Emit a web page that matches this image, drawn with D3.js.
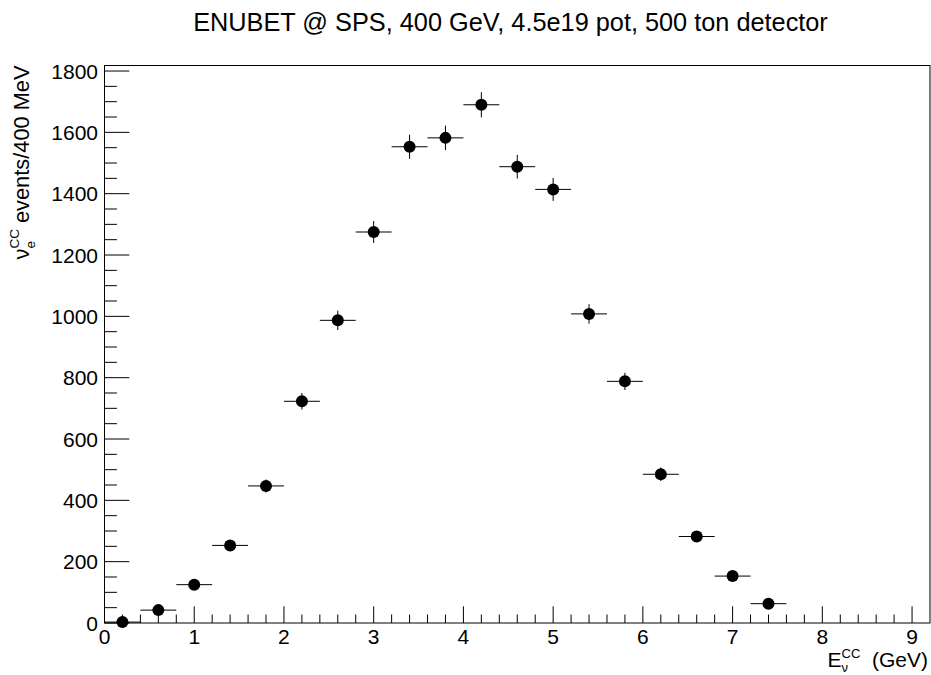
<!DOCTYPE html>
<html><head><meta charset="utf-8">
<script src="https://cdn.jsdelivr.net/npm/d3@7"></script>
<style>body{margin:0;background:#fff}svg{display:block}text{font-family:"Liberation Sans",Arial,Helvetica,sans-serif;fill:#000;white-space:pre}</style>
</head><body>
<svg id="c" width="931" height="675"></svg>
<script>
// ---- data ----
const energies = [0.2,0.6,1.0,1.4,1.8,2.2,2.6,3.0,3.4,3.8,4.2,4.6,5.0,5.4,5.8,6.2,6.6,7.0,7.4];
const events   = [3,42,125,253,447,723,987,1275,1553,1582,1690,1488,1414,1008,788,485,282,153,63];
const errors   = [1.7,6.5,11.2,15.9,21.1,26.9,31.4,35.7,39.4,39.8,41.1,38.6,37.6,31.7,28.1,22.0,16.8,12.4,7.9];
const binHalfWidth = 0.2;
const xTickLabels = ["0","1","2","3","4","5","6","7","8","9"];
const yTickLabels = ["0","200","400","600","800","1000","1200","1400","1600","1800"];
const titleText = "ENUBET @ SPS, 400 GeV, 4.5e19 pot, 500 ton detector";

// ---- layout ----
const L = 104.5, R = 930, T = 65.5, B = 623;
const fs = 21;
const svg = d3.select("#c");
const x = d3.scaleLinear().domain([0, 9.2]).range([L, R]);
const y = d3.scaleLinear().domain([0, 1818]).range([B, T]);

// frame
svg.append("rect").attr("x",L).attr("y",T).attr("width",R-L).attr("height",B-T)
  .attr("fill","none").attr("stroke","#000").attr("stroke-width",1);

// x ticks
const xMajLen = 16.7, xMinLen = 8.5;
const xMinor = d3.range(0, 46).map(i => i*0.2);
svg.append("g").selectAll("line").data(xMinor).join("line")
  .attr("x1", d=>x(d)).attr("x2", d=>x(d))
  .attr("y1", B).attr("y2", (d,i)=> B - (i%5===0 ? xMajLen : xMinLen))
  .attr("stroke","#000").attr("stroke-width",1);
svg.append("g").selectAll("text").data(xTickLabels).join("text")
  .attr("x", d=>x(+d)).attr("y", 643.5).attr("text-anchor","middle")
  .attr("font-size", fs).text(d=>d);

// y ticks
const yMajLen = 24.8, yMinLen = 12.4;
const yMinor = d3.range(0, 37).map(i => i*50);
svg.append("g").selectAll("line").data(yMinor).join("line")
  .attr("x1", L).attr("x2", (d,i)=> L + (i%4===0 ? yMajLen : yMinLen))
  .attr("y1", d=>y(d)).attr("y2", d=>y(d))
  .attr("stroke","#000").attr("stroke-width",1);
svg.append("g").selectAll("text").data(yTickLabels).join("text")
  .attr("x", 98).attr("y", d=>y(+d)).attr("dy","0.36em").attr("text-anchor","end")
  .attr("font-size", fs).text(d=>d);

// title
svg.append("text").attr("x", 510.5).attr("y", 31).attr("text-anchor","middle")
  .attr("font-size", 25.3).text(titleText);

// helper for text with stacked sub/superscripts
function richText(g, parts, size) {
  let cx = 0;
  parts.forEach(p => {
    if (p.type === "norm") {
      const t = g.append("text").attr("x", cx).attr("y", 0).attr("font-size", size).text(p.t);
      cx += t.node().getComputedTextLength();
    } else { // stacked sub & sup
      const s = size*0.62;
      const a = g.append("text").attr("x", cx).attr("y", size*0.26).attr("font-size", s).text(p.sub);
      const b = g.append("text").attr("x", cx).attr("y", -size*0.44).attr("font-size", s).text(p.sup);
      cx += Math.max(a.node().getComputedTextLength(), b.node().getComputedTextLength());
    }
  });
  return cx;
}

// x axis title (right aligned)
{
  const g = svg.append("g");
  const w = richText(g, [{type:"norm",t:"E"},{type:"ss",sub:"ν",sup:"CC"},{type:"norm",t:"  (GeV)"}], 21);
  g.attr("transform", `translate(${R - 2 - w},666.8)`);
}
// y axis title (rotated, aligned to top)
{
  const g = svg.append("g");
  const w = richText(g, [{type:"norm",t:"ν"},{type:"ss",sub:"e",sup:"CC"},{type:"norm",t:" events/400 MeV"}], 21.8);
  g.attr("transform", `translate(29,${T + w}) rotate(-90)`);
}

// data: error bars and markers
const pts = energies.map((e,i)=>({e, v:events[i], err:errors[i]}));
const gd = svg.append("g");
gd.selectAll("line.h").data(pts).join("line").attr("class","h")
  .attr("x1", d=>x(d.e-binHalfWidth)).attr("x2", d=>x(d.e+binHalfWidth))
  .attr("y1", d=>y(d.v)).attr("y2", d=>y(d.v)).attr("stroke","#000").attr("stroke-width",1);
gd.selectAll("line.v").data(pts).join("line").attr("class","v")
  .attr("x1", d=>x(d.e)).attr("x2", d=>x(d.e))
  .attr("y1", d=>y(d.v-d.err)).attr("y2", d=>y(d.v+d.err)).attr("stroke","#000").attr("stroke-width",1);
gd.selectAll("circle").data(pts).join("circle")
  .attr("cx", d=>x(d.e)).attr("cy", d=>y(d.v)).attr("r", 6).attr("fill","#000");
</script>
</body></html>
